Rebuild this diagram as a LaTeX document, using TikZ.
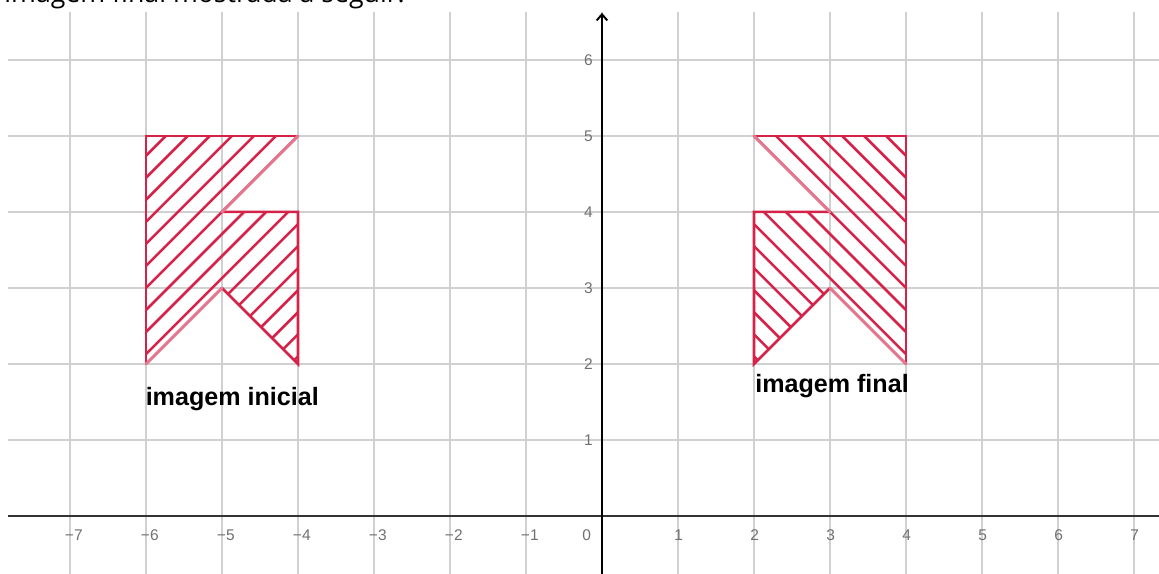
\documentclass[tikz,border=0pt]{standalone}
\usepackage{fontspec}
\setmainfont{Liberation Sans}
\newfontfamily\introfont{Open Sans}
\usetikzlibrary{arrows.meta}
\definecolor{hatchred}{RGB}{212,34,72}
\definecolor{gridgray}{RGB}{208,208,208}
\definecolor{ticktext}{RGB}{112,112,112}

\begin{document}
\begin{tikzpicture}[
      gridline/.style={draw=gridgray, line width=0.65pt},
      axis/.style={draw=black!80, line width=0.75pt},
      hatch/.style={draw=hatchred, line width=0.95pt},
      edge/.style={draw=hatchred, line width=0.95pt, line cap=round},
      softedge/.style={draw=hatchred!62, line width=1.1pt, line cap=round},
      ticklbl/.style={font=\fontsize{5.8}{7}\selectfont, text=ticktext, inner sep=0pt},
      caption/.style={font=\bfseries\fontsize{9.4}{11}\selectfont, inner sep=0pt, anchor=base west},
      ]
    \useasboundingbox (-7.921,-0.763) rectangle (7.329,6.789);
    \clip (-7.921,-0.763) rectangle (7.329,6.789);

    \node[anchor=base west, inner sep=0pt, font=\introfont\fontsize{10}{12}\selectfont] (intro) at (-7.87,6.75) {imagem final mostrada a seguir.};

    \foreach \x in {-7,...,7} \draw[gridline] (\x,-0.763) -- (\x,6.63);
    \foreach \y in {1,...,6} \draw[gridline] (-7.82,\y) -- (7.329,\y);

    \coordinate (xstart) at (-7.82,0);
    \coordinate (xend) at (7.329,0);
    \coordinate (ystart) at (0,-0.763);
    \coordinate (yend) at (0,6.62);
    \draw[axis] (xstart) -- (xend);
    \draw[axis, draw=black, -{Straight Barb[length=0.8mm, width=1.4mm]}] (ystart) -- (yend);

    \foreach \x in {1,...,7} {
      \node[ticklbl] (xneg\x) at (-\x+0.05,-0.25) {−\x};
      \node[ticklbl] (xpos\x) at (\x+0.01,-0.25) {\x};
    }
    \node[ticklbl] (zero) at (-0.2,-0.25) {0};
    \foreach \y in {1,...,6} \node[ticklbl] (ylbl\y) at (-0.18,\y) {\y};

    \begin{scope}
      \clip (-6,5) -- (-4,5) -- (-5,4) -- (-4,4) -- (-4,2) -- (-5,3) -- (-6,2) -- cycle;
      \foreach \k in {-11,...,7} \draw[hatch] (-7,{2+0.29*\k}) -- ++(4,4);
    \end{scope}
    \draw[edge] (-5,4) -- (-4,4) -- (-4,2) -- (-5,3);
    \draw[edge] (-6,2) -- (-6,5) -- (-4,5);
    \draw[softedge] (-4,5) -- (-5,4);
    \draw[softedge] (-5,3) -- (-6,2);

    \begin{scope}
      \clip (2,5) -- (4,5) -- (4,2) -- (3,3) -- (2,2) -- (2,4) -- (3,4) -- cycle;
      \foreach \k in {-11,...,7} \draw[hatch] (1,{6+0.29*\k}) -- ++(4,-4);
    \end{scope}
    \draw[edge] (3,4) -- (2,4) -- (2,2) -- (3,3);
    \draw[edge] (2,5) -- (4,5) -- (4,2);
    \draw[softedge] (2,5) -- (3,4);
    \draw[softedge] (3,3) -- (4,2);

    \node[caption] (inicial) at (-6.01,1.46) {imagem inicial};
    \node[caption] (final) at (2.01,1.62) {imagem final};
  \end{tikzpicture}
\end{document}
